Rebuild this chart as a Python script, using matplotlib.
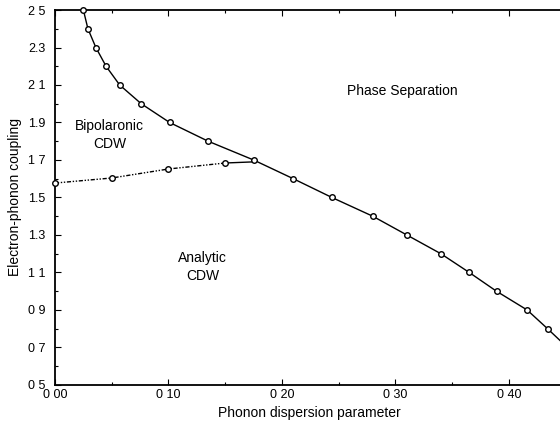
import numpy as np
import matplotlib.pyplot as plt
from matplotlib.ticker import MultipleLocator

plt.rcParams['font.family'] = ['Liberation Sans', 'DejaVu Sans']

# Phase boundary between CDW and phase separation (solid, open circles)
boundary_x = [0.025, 0.029, 0.036, 0.045, 0.057, 0.076, 0.101, 0.135, 0.175,
              0.210, 0.244, 0.280, 0.310, 0.340, 0.365, 0.389, 0.416, 0.434, 0.455]
boundary_y = [2.5, 2.4, 2.3, 2.2, 2.1, 2.0, 1.9, 1.8, 1.7,
              1.6, 1.5, 1.4, 1.3, 1.2, 1.1, 1.0, 0.9, 0.8, 0.68]
n_marked = 18

# Analytic / bipolaronic crossover (dashed)
cross_x = [0.0, 0.050, 0.100, 0.150, 0.175]
cross_y = [1.577, 1.604, 1.652, 1.684, 1.69]

xticks = [0.0, 0.1, 0.2, 0.3, 0.4]
xtick_labels = ['0 00', '0 10', '0 20', '0 30', '0 40']
yticks = [0.5, 0.7, 0.9, 1.1, 1.3, 1.5, 1.7, 1.9, 2.1, 2.3, 2.5]
ytick_labels = ['0 5', '0 7', '0 9', '1 1', '1.3', '1.5', '1 7', '1.9', '2 1', '2.3', '2 5']

fig = plt.figure(figsize=(5.6, 4.33), dpi=100)
ax = fig.add_axes([0.0982, 0.1109, 1.0134, 0.866])

ax.plot(boundary_x, boundary_y, color='black', lw=1.0, marker='o', ms=4,
        mfc='white', mec='black', mew=1.0, markevery=list(range(n_marked)),
        clip_on=False, zorder=3)
ax.plot(cross_x[:-1], cross_y[:-1], color='black', lw=1.0,
        linestyle=(0, (3, 1.2, 1, 1.2, 1, 1.2)), marker='o', ms=4,
        mfc='white', mec='black', mew=1.0, clip_on=False, zorder=3)
ax.plot(cross_x[-2:], cross_y[-2:], color='black', lw=1.0, zorder=2)

ax.text(0.306, 2.068, 'Phase Separation', ha='center', va='center', fontsize=10)
ax.text(0.048, 1.833, 'Bipolaronic\nCDW', ha='center', va='center', fontsize=10,
        linespacing=1.4)
ax.text(0.130, 1.13, 'Analytic\nCDW', ha='center', va='center', fontsize=10,
        linespacing=1.4)

ax.set_xlim(0, 0.5)
ax.set_ylim(0.5, 2.5)
ax.set_xticks(xticks)
ax.set_xticklabels(xtick_labels)
ax.set_yticks(yticks)
ax.set_yticklabels(ytick_labels)
ax.xaxis.set_minor_locator(MultipleLocator(0.05))
ax.yaxis.set_minor_locator(MultipleLocator(0.1))
ax.tick_params(which='both', direction='in', top=True, right=False,
               labelsize=9, width=0.8)
ax.tick_params(axis='x', pad=3)
ax.tick_params(axis='y', pad=7)
ax.tick_params(which='major', length=4)
ax.tick_params(which='minor', length=2)
for side in ['left', 'bottom', 'top']:
    ax.spines[side].set_linewidth(1.3)
ax.spines['right'].set_visible(False)

ax.set_xlabel('Phonon dispersion parameter', fontsize=10, labelpad=5)
ax.xaxis.set_label_coords(0.449, -0.055)
ax.set_ylabel('Electron-phonon coupling', fontsize=10, labelpad=4)

fig.savefig('out.png', dpi=100)
